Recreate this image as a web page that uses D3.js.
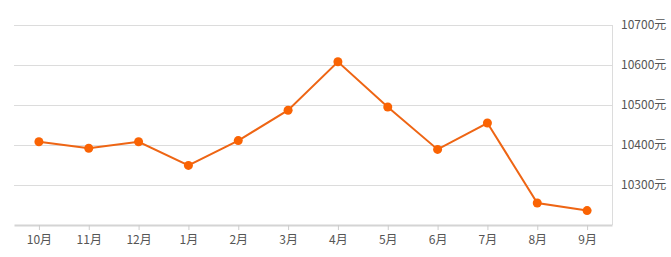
<!DOCTYPE html>
<html>
<head>
<meta charset="utf-8">
<script src="https://cdn.jsdelivr.net/npm/d3@7"></script>
<style>
  body { margin: 0; background: #fff; }
  text { font-family: "Noto Sans CJK SC", "Open Sans", sans-serif; }
</style>
</head>
<body>
<div id="chart"></div>
<script>
const w = 671;
const h = 257;

const months = ["10月", "11月", "12月", "1月", "2月", "3月", "4月", "5月", "6月", "7月", "8月", "9月"];
const prices = [10408, 10392, 10408, 10349, 10411, 10487, 10608, 10495, 10389, 10455, 10255, 10236];
const yTicks = [10300, 10400, 10500, 10600, 10700];

const plotLeft = 14, plotRight = 612, plotTop = 25, plotBottom = 225;

const svg = d3.select("#chart")
                .append("svg")
                .attr("width", w)
                .attr("height", h);

const x = d3.scalePoint()
              .domain(months)
              .range([plotLeft, plotRight])
              .padding(0.5);

const y = d3.scaleLinear()
              .domain([10200, 10700])
              .range([plotBottom, plotTop]);

// gridlines
svg.selectAll(".grid")
    .data(yTicks)
    .enter()
    .append("line")
    .attr("class", "grid")
    .attr("x1", plotLeft)
    .attr("x2", plotRight)
    .attr("y1", d => y(d) + 0.5)
    .attr("y2", d => y(d) + 0.5)
    .attr("stroke", "#dcdcdc")
    .attr("stroke-width", 1);

// right border
svg.append("line")
    .attr("x1", plotRight + 0.5)
    .attr("x2", plotRight + 0.5)
    .attr("y1", plotTop)
    .attr("y2", plotBottom)
    .attr("stroke", "#dcdcdc");

// y labels
svg.selectAll(".ylab")
    .data(yTicks)
    .enter()
    .append("text")
    .attr("class", "ylab")
    .attr("x", plotRight + 9)
    .attr("y", d => y(d) + 4)
    .attr("font-size", 12)
    .attr("fill", "#555")
    .text(d => d + "元");

// x axis
const xAxis = svg.append("g")
    .attr("transform", "translate(0," + plotBottom + ")")
    .call(d3.axisBottom(x).tickSize(5).tickSizeOuter(0));

xAxis.select(".domain")
    .attr("stroke", "#d4d4d4")
    .attr("stroke-width", 2);

xAxis.selectAll(".tick line").attr("stroke", "#ccc");
xAxis.selectAll(".tick text")
    .attr("fill", "#555")
    .attr("font-size", 12)
    .attr("y", 10);

// line
const line = d3.line()
                .x((d, i) => x(months[i]))
                .y(d => y(d));

svg.append("path")
    .datum(prices)
    .attr("d", line)
    .attr("fill", "none")
    .attr("stroke", "#ee6514")
    .attr("stroke-width", 2);

svg.selectAll(".dot")
    .data(prices)
    .enter()
    .append("circle")
    .attr("class", "dot")
    .attr("cx", (d, i) => x(months[i]))
    .attr("cy", d => y(d))
    .attr("r", 4.5)
    .attr("fill", "#fa6303");
</script>
</body>
</html>
